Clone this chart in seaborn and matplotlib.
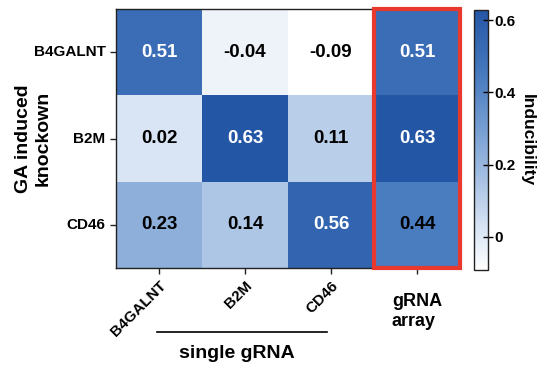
import numpy as np
import pandas as pd
import matplotlib.pyplot as plt
import seaborn as sns
from matplotlib.colors import LinearSegmentedColormap
from matplotlib.patches import Rectangle

rows = ['B4GALNT', 'B2M', 'CD46']
cols = ['B4GALNT', 'B2M', 'CD46', 'gRNA\narray']
b4galnt = [0.51, -0.04, -0.09, 0.51]
b2m = [0.02, 0.63, 0.11, 0.63]
cd46 = [0.23, 0.14, 0.56, 0.44]

df = pd.DataFrame([b4galnt, b2m, cd46], index=rows, columns=cols)

cmap = LinearSegmentedColormap.from_list(
    'ind', [(0.0, '#ffffff'), (0.15, '#dae6f5'), (0.44, '#8fb0db'),
            (0.74, '#4a7cc0'), (1.0, '#2456a6')])

plt.rcParams['font.family'] = ['Liberation Sans', 'DejaVu Sans']
fig = plt.figure(figsize=(5.46, 3.67), dpi=100)
ax = fig.add_axes([0.2125, 0.27, 0.63, 0.705])
cax = fig.add_axes([0.868, 0.264, 0.026, 0.709])

sns.heatmap(df, ax=ax, cbar_ax=cax, cmap=cmap, vmin=-0.092, vmax=0.628,
            annot=False)

# annotations
for i, r in enumerate(rows):
    for j, c in enumerate(cols):
        v = df.loc[r, c]
        col = 'white' if v >= 0.5 else 'black'
        ax.text(j + 0.5, i + 0.5, f'{v:.2f}', ha='center', va='center',
                fontsize=13.5, fontweight='bold', color=col)

for s in ax.spines.values():
    s.set_visible(True)
    s.set_linewidth(1)
    s.set_color('#222222')

ax.tick_params(axis='both', length=4, width=1, color='#222222')
ax.set_yticklabels(rows, rotation=0, fontsize=11, fontweight='bold')
ax.set_xticklabels(cols, fontsize=11, fontweight='bold')
for lab in ax.get_xticklabels()[:3]:
    lab.set_rotation(45)
    lab.set_ha('right')
    lab.set_rotation_mode('anchor')
last = ax.get_xticklabels()[3]
last.set_rotation(0)
last.set_fontsize(13)
last.set_ha('center')
last.set_multialignment('left')
last.set_va('top')
ax.xaxis.get_major_ticks()[3].set_pad(14)
ax.set_ylabel('GA induced\nknockown', fontsize=14, fontweight='bold')
ax.yaxis.set_label_coords(-0.186, 0.5)
ax.set_xlabel('')

# red box around the array column
ax.add_patch(Rectangle((3, 0), 1, 3, fill=False, edgecolor='#e8392f',
                       linewidth=3, clip_on=False, zorder=5))

# single gRNA bracket
fig.add_artist(plt.Line2D([157 / 546, 327 / 546], [1 - 332 / 367, 1 - 332 / 367],
                          color='black', linewidth=1.2))
fig.text(237 / 546, 1 - 353 / 367, 'single gRNA', ha='center', va='center',
         fontsize=14, fontweight='bold')

cb = ax.collections[0].colorbar
cb.set_ticks([0, 0.2, 0.4, 0.6])
cb.set_ticklabels(['0', '0.2', '0.4', '0.6'])
cb.ax.tick_params(labelsize=11, length=7, width=1, direction='inout', pad=1)
for lab in cb.ax.get_yticklabels():
    lab.set_fontweight('bold')
cb.outline.set_visible(True)
cb.outline.set_edgecolor('#222222')
cb.outline.set_linewidth(1)
cb.set_label('Inducibility', rotation=270, fontsize=12.5, fontweight='bold', labelpad=14)

fig.savefig('out.png', dpi=100)
